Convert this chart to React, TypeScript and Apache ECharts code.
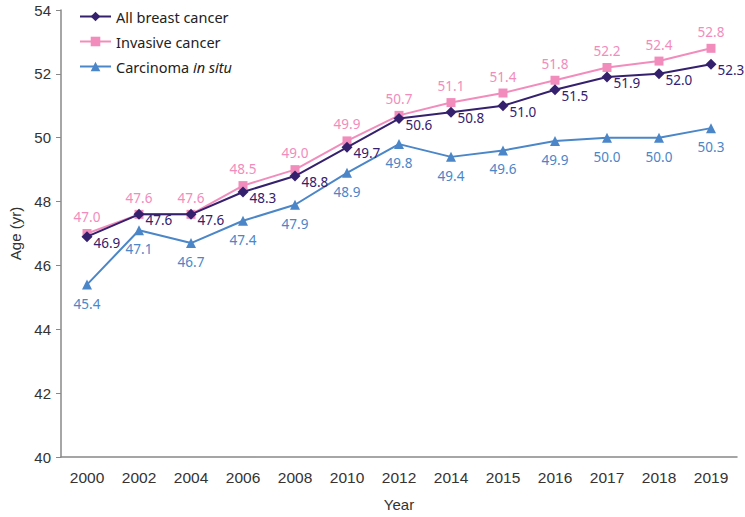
import React, { useEffect, useRef } from "react";
import * as echarts from "echarts";

const years = ["2000", "2002", "2004", "2006", "2008", "2010", "2012", "2014", "2015", "2016", "2017", "2018", "2019"];
const allBreast = [46.9, 47.6, 47.6, 48.3, 48.8, 49.7, 50.6, 50.8, 51.0, 51.5, 51.9, 52.0, 52.3];
const invasive = [47.0, 47.6, 47.6, 48.5, 49.0, 49.9, 50.7, 51.1, 51.4, 51.8, 52.2, 52.4, 52.8];
const cis = [45.4, 47.1, 46.7, 47.4, 47.9, 48.9, 49.8, 49.4, 49.6, 49.9, 50.0, 50.0, 50.3];

const C_ALL = "#35206e";
const C_INV = "#f28cbd";
const C_CIS = "#4a86c8";
const LABEL_FONT = "'Noto Sans', 'DejaVu Sans', sans-serif";
const AXIS_FONT = "'Liberation Sans', Arial, sans-serif";

export default function App() {
  const ref = useRef<HTMLDivElement>(null);
  useEffect(() => {
    if (!ref.current) return;
    const chart = echarts.init(ref.current, null, { renderer: "svg" });
    const lbl = (color: string, position: string, offset?: number[], distance = 5) => ({
      show: true,
      position,
      offset,
      distance,
      color,
      fontSize: 13.5,
      fontFamily: LABEL_FONT,
      formatter: (p: any) => Number(p.value).toFixed(1),
    });
    chart.setOption({
      animation: false,
      grid: { left: 61, right: 8, top: 10, bottom: 55 },
      legend: {
        orient: "vertical",
        left: 74,
        top: 4,
        itemWidth: 31,
        itemHeight: 12,
        itemGap: 10,
        textStyle: {
          fontSize: 14.5,
          color: "#222",
          fontFamily: LABEL_FONT,
          rich: { i: { fontStyle: "italic", fontSize: 14.5, color: "#222", fontFamily: LABEL_FONT } },
        },
        formatter: (name: string) => (name === "Carcinoma in situ" ? "Carcinoma {i|in situ}" : name),
        data: ["All breast cancer", "Invasive cancer", "Carcinoma in situ"],
      },
      xAxis: {
        type: "category",
        data: years,
        boundaryGap: true,
        name: "Year",
        nameLocation: "middle",
        nameGap: 40,
        nameTextStyle: { fontSize: 15, color: "#333", fontFamily: AXIS_FONT },
        axisLine: { lineStyle: { color: "#888", width: 1.5 } },
        axisTick: { alignWithLabel: true, length: 5, lineStyle: { color: "#888" } },
        axisLabel: { fontSize: 15.5, color: "#333", fontFamily: AXIS_FONT, margin: 12 },
      },
      yAxis: {
        type: "value",
        min: 40,
        max: 54,
        interval: 2,
        name: "Age (yr)",
        nameLocation: "middle",
        nameGap: 30,
        nameTextStyle: { fontSize: 15, color: "#333", fontFamily: AXIS_FONT },
        splitLine: { show: false },
        axisLine: { show: true, lineStyle: { color: "#888", width: 1.5 } },
        axisTick: { show: true, length: 5, lineStyle: { color: "#888" } },
        axisLabel: { fontSize: 15, color: "#333", fontFamily: AXIS_FONT, margin: 10 },
      },
      series: [
        {
          name: "Carcinoma in situ",
          type: "line",
          data: cis,
          symbol: "triangle",
          symbolSize: 10,
          color: C_CIS,
          lineStyle: { width: 2, color: C_CIS },
          itemStyle: { color: C_CIS },
          label: lbl(C_CIS, "bottom", [0, 2]),
          z: 2,
        },
        {
          name: "Invasive cancer",
          type: "line",
          data: invasive,
          symbol: "rect",
          symbolSize: 9,
          color: C_INV,
          lineStyle: { width: 2, color: C_INV },
          itemStyle: { color: C_INV },
          label: lbl(C_INV, "top", [0, 0]),
          z: 3,
        },
        {
          name: "All breast cancer",
          type: "line",
          data: allBreast,
          symbol: "diamond",
          symbolSize: 11,
          color: C_ALL,
          lineStyle: { width: 2, color: C_ALL },
          itemStyle: { color: C_ALL },
          label: lbl(C_ALL, "right", [-3, 6], 4),
          z: 4,
        },
      ],
    });
    return () => chart.dispose();
  }, []);
  return <div ref={ref} style={{ width: 745, height: 517, position: "absolute", left: 0, top: 0 }} />;
}
